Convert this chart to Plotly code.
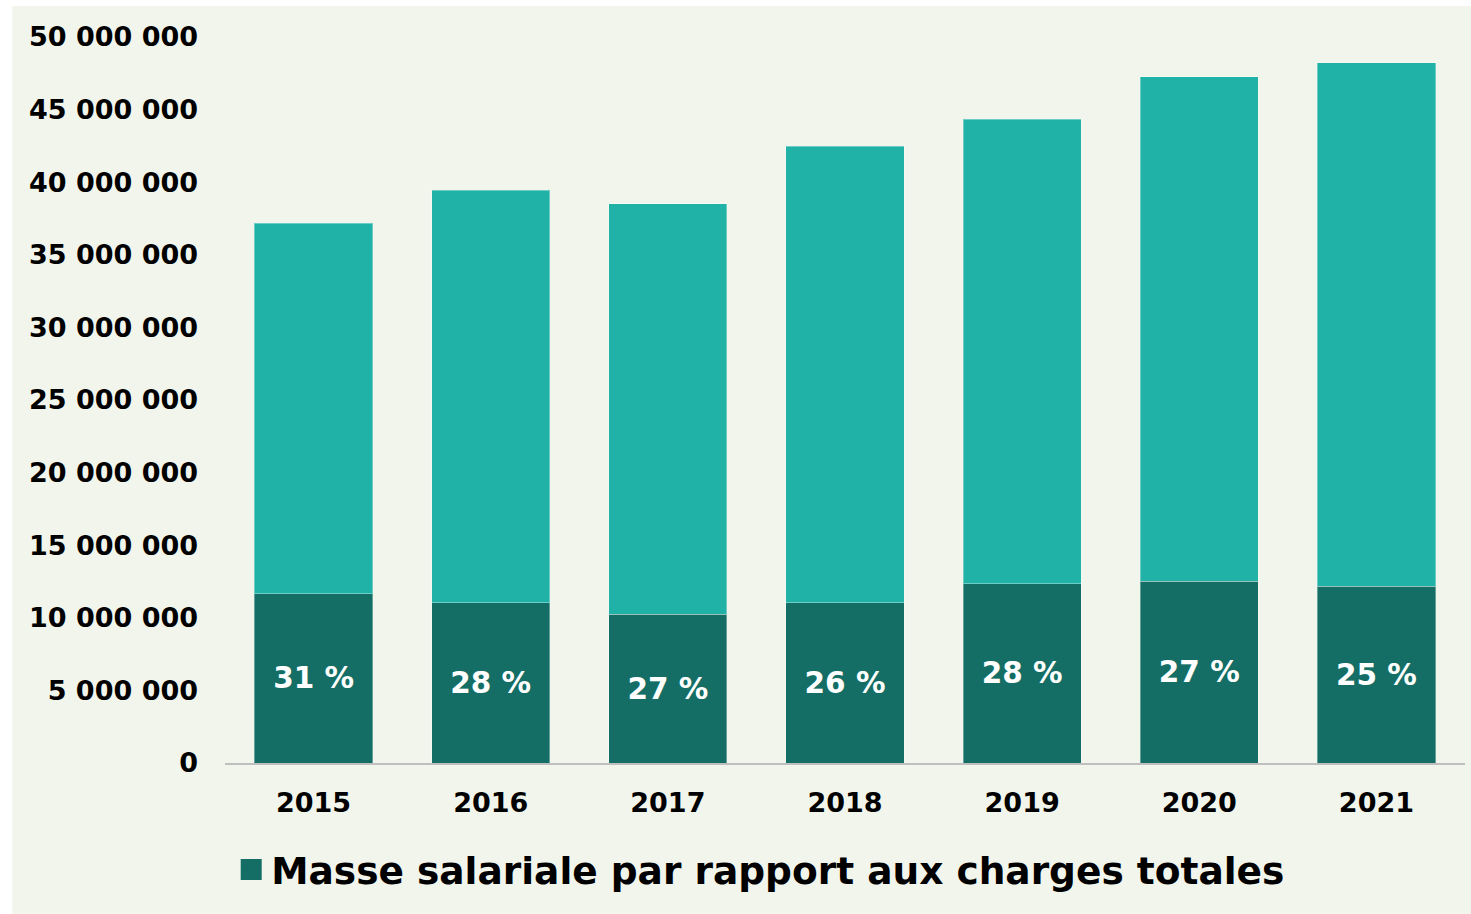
import plotly.graph_objects as go

years = ["2015", "2016", "2017", "2018", "2019", "2020", "2021"]
masse_salariale = [11_640_000, 11_020_000, 10_260_000, 11_020_000, 12_330_000, 12_530_000, 12_190_000]
charges_totales = [37_190_000, 39_460_000, 38_500_000, 42_490_000, 44_350_000, 47_250_000, 48_210_000]
pct_labels = ["31 %", "28 %", "27 %", "26 %", "28 %", "27 %", "25 %"]
autres_charges = [t - m for t, m in zip(charges_totales, masse_salariale)]
legend_label = "Masse salariale par rapport aux charges totales"

BG = "#F2F5EC"
DARK = "#146E65"
LIGHT = "#20B2A6"
FONT = "DejaVu Sans"

fig = go.Figure()
fig.add_trace(go.Bar(
    x=years, y=masse_salariale, name=legend_label, legendgroup="ms",
    marker=dict(color=DARK, line=dict(color="rgba(255,255,255,0.35)", width=1)),
    text=pct_labels, textposition="inside", insidetextanchor="middle",
    textfont=dict(family=FONT, size=29.5, color="white", weight="bold"),
    showlegend=False,
))
fig.add_trace(go.Bar(
    x=years, y=autres_charges, name="Autres charges",
    marker=dict(color=LIGHT, line=dict(color="rgba(255,255,255,0.35)", width=1)),
    showlegend=False, hoverinfo="skip",
))
# legend entry with a larger square swatch
fig.add_trace(go.Scatter(
    x=[None], y=[None], mode="markers", name=legend_label, legendgroup="ms",
    marker=dict(symbol="square", size=16, color=DARK, line=dict(color=DARK, width=5)),
    showlegend=True, hoverinfo="skip",
))

fig.update_layout(
    width=1471, height=914,
    barmode="stack", bargap=0.333,
    paper_bgcolor=BG, plot_bgcolor=BG,
    margin=dict(l=225, r=6, t=37, b=151),
    separators=". ",
    font=dict(family=FONT, color="black", weight="bold"),
    legend=dict(orientation="h", x=0.005, xanchor="left", y=-0.147, yanchor="middle",
                font=dict(family=FONT, size=37.5, color="black", weight="bold"),
                bgcolor="rgba(0,0,0,0)", itemwidth=30),
    shapes=[
        dict(type="rect", xref="paper", yref="paper", x0=-0.2, x1=-0.1715, y0=-0.25, y1=1.1,
             fillcolor="white", line=dict(width=0), layer="below"),
        dict(type="rect", xref="paper", yref="paper", x0=-0.2, x1=1.1, y0=1.0427, y1=1.1,
             fillcolor="white", line=dict(width=0), layer="below"),
    ],
)
fig.update_xaxes(
    showgrid=False, showline=True, linecolor="#BFBFBF", linewidth=2,
    tickfont=dict(family=FONT, size=27, color="black", weight="bold"),
    ticks="", ticklabelstandoff=15,
)
fig.update_yaxes(
    range=[0, 50_000_000], tickvals=list(range(0, 50_000_001, 5_000_000)),
    tickformat=",d", showgrid=False, zeroline=False, showline=False,
    tickfont=dict(family=FONT, size=27, color="black", weight="bold"),
    ticks="", ticklabelstandoff=26,
)

fig.write_html("out.html", config={"displayModeBar": False},
               post_script="document.body.style.margin='0px';")
